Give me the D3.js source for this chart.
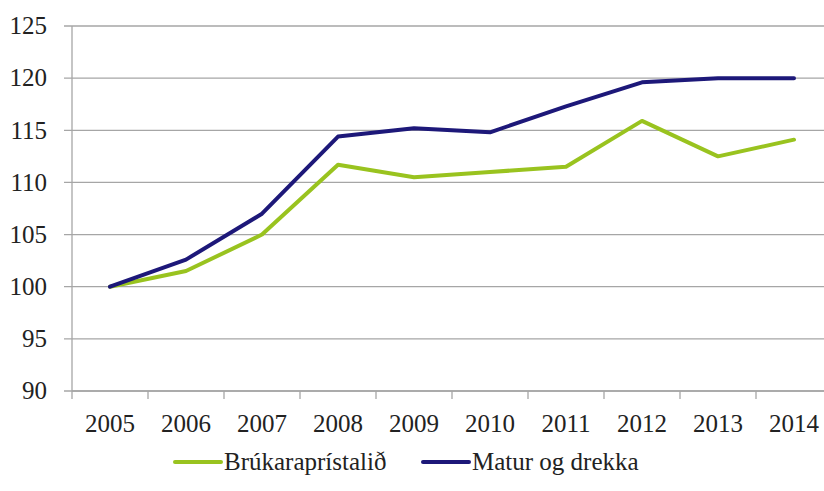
<!DOCTYPE html>
<html>
<head>
<meta charset="utf-8">
<script src="https://cdn.jsdelivr.net/npm/d3@7"></script>
</head>
<body style="margin:0">
<svg id="chart" width="824" height="491" font-family="Liberation Serif" style="font-family:'Liberation Serif'"></svg>
<script>
// line chart — two index series 2005–2014 (2005 = 100)

const YEARS = ['2005', '2006', '2007', '2008', '2009', '2010', '2011', '2012', '2013', '2014'];
const CPI   = [100, 101.5, 105.0, 111.7, 110.5, 111.0, 111.5, 115.9, 112.5, 114.1];
const FOOD  = [100, 102.6, 107.0, 114.4, 115.2, 114.8, 117.3, 119.6, 120.0, 120.0];
const Y_TICKS = [90, 95, 100, 105, 110, 115, 120, 125];
const SERIES_NAMES = ['Brúkaraprístalið', 'Matur og drekka'];

const W = 824, H = 491;
const FONT = '"Liberation Serif"';
const GREEN = '#99c31f', NAVY = '#1d1879', GRID = '#a6a6a6';

const svg = d3.select('#chart');

// plot area — last band runs past the right edge, like the original crop
const plotL = 72, plotT = 26, plotB = 391;
const bandW = 76;

const x = d3.scaleBand().domain(YEARS).range([plotL, plotL + bandW * YEARS.length]);
const y = d3.scaleLinear().domain([90, 125]).range([plotB, plotT]);

// ── gridlines + y labels ───────────────────────────────────────────────
const gy = svg.append('g').attr('transform', `translate(${plotL},0)`);
gy.selectAll('line')
    .data(Y_TICKS)
    .join('line')
    .attr('x1', -8).attr('x2', W - plotL)
    .attr('y1', d => y(d)).attr('y2', d => y(d))
    .attr('stroke', GRID).attr('stroke-width', 1.3);
gy.selectAll('text')
    .data(Y_TICKS)
    .join('text')
    .attr('x', -25).attr('y', d => y(d))
    .attr('dy', '0.33em')
    .attr('text-anchor', 'end')
    .style('font-family', FONT).style('font-size', '25px').attr('fill', '#222')
    .text(d => d);

// vertical axis line
svg.append('line')
    .attr('x1', plotL).attr('x2', plotL).attr('y1', plotT).attr('y2', plotB)
    .attr('stroke', GRID).attr('stroke-width', 1.3);

// ── x axis ─────────────────────────────────────────────────────────────
svg.append('line')
    .attr('x1', plotL).attr('x2', W).attr('y1', plotB).attr('y2', plotB)
    .attr('stroke', GRID).attr('stroke-width', 1.3);

svg.append('g').selectAll('line')
    .data(YEARS.concat(['end']))
    .join('line')
    .attr('x1', (d, i) => plotL + i * x.step())
    .attr('x2', (d, i) => plotL + i * x.step())
    .attr('y1', plotB).attr('y2', plotB + 8)
    .attr('stroke', GRID).attr('stroke-width', 1.3);

svg.append('g').selectAll('text')
    .data(YEARS)
    .join('text')
    .attr('x', d => x(d) + x.bandwidth() / 2)
    .attr('y', 432)
    .attr('text-anchor', 'middle')
    .style('font-family', FONT).style('font-size', '25px').attr('fill', '#222')
    .text(d => d);

// ── lines ──────────────────────────────────────────────────────────────
const line = d3.line()
    .x((d, i) => x(YEARS[i]) + x.bandwidth() / 2)
    .y(d => y(d));

[[CPI, GREEN], [FOOD, NAVY]].forEach(([vals, col]) => {
    svg.append('path')
        .datum(vals)
        .attr('d', line)
        .attr('fill', 'none')
        .attr('stroke', col)
        .attr('stroke-width', 4)
        .attr('stroke-linejoin', 'round')
        .attr('stroke-linecap', 'round');
});

// ── legend ─────────────────────────────────────────────────────────────
const legend = [
    { name: SERIES_NAMES[0], color: GREEN, x: 175 },
    { name: SERIES_NAMES[1], color: NAVY,  x: 423 },
];
legend.forEach(l => {
    svg.append('line')
        .attr('x1', l.x).attr('x2', l.x + 46).attr('y1', 462).attr('y2', 462)
        .attr('stroke', l.color).attr('stroke-width', 4).attr('stroke-linecap', 'round');
    svg.append('text')
        .attr('x', l.x + 49).attr('y', 470)
        .style('font-family', FONT).style('font-size', '25px').attr('fill', '#222')
        .text(l.name);
});
</script>
</body>
</html>
